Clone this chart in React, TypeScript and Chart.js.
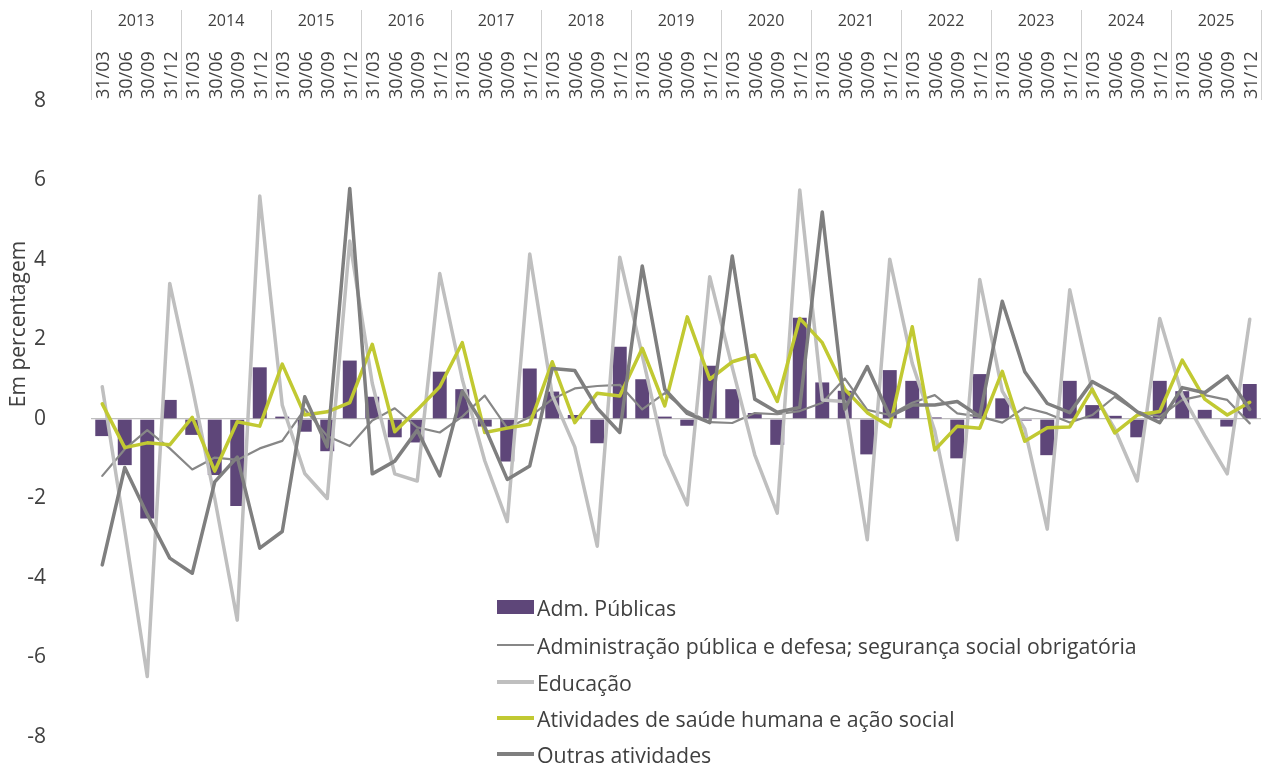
import React, { useEffect, useRef } from 'react';
import { Chart, registerables } from 'chart.js';

Chart.register(...registerables);

const years = ['2013', '2014', '2015', '2016', '2017', '2018', '2019', '2020', '2021', '2022', '2023', '2024', '2025'];
const quarters = ['31/03', '30/06', '30/09', '31/12'];
const categories = years.flatMap((y) => quarters.map((q) => q + ' ' + y));

const yTicks = [-8, -6, -4, -2, 0, 2, 4, 6, 8];

const admPublicas = [
  -0.43, -1.16, -2.5, 0.48, -0.4, -1.41, -2.19, 1.3, 0.06, -0.32, -0.81, 1.47,
  0.56, -0.46, -0.59, 1.19, 0.75, -0.19, -1.07, 1.27, 0.69, 0.1, -0.61, 1.82,
  1.0, 0.06, -0.17, 1.34, 0.75, 0.15, -0.65, 2.55, 0.92, 0.71, -0.89, 1.23,
  0.96, 0.04, -0.99, 1.13, 0.52, -0.04, -0.91, 0.96, 0.35, 0.08, -0.46, 0.96,
  0.7, 0.23, -0.19, 0.88,
];

const administracaoPublica = [
  -1.43, -0.76, -0.28, -0.74, -1.27, -0.97, -1.03, -0.74, -0.55, 0.25, -0.43, -0.68,
  -0.04, 0.27, -0.21, -0.34, 0.06, 0.59, -0.23, 0.05, 0.5, 0.77, 0.83, 0.86,
  0.24, 0.65, 0.2, -0.08, -0.1, 0.15, 0.12, 0.2, 0.41, 1.02, 0.23, 0.1,
  0.41, 0.6, 0.14, 0.06, -0.09, 0.29, 0.14, -0.09, 0.1, 0.56, 0.18, 0.06,
  0.48, 0.6, 0.48, -0.11,
];

const educacao = [
  0.81, -2.8, -6.48, 3.41, 0.8, -2.0, -5.06, 5.61, 0.35, -1.37, -2.0, 4.48,
  0.9, -1.38, -1.56, 3.66, 1.0, -1.05, -2.58, 4.15, 0.6, -0.7, -3.2, 4.07,
  1.6, -0.9, -2.16, 3.58, 1.3, -0.9, -2.37, 5.76, 0.48, 0.44, -3.04, 4.02,
  1.4, -0.3, -3.04, 3.51, 0.7, -0.25, -2.77, 3.25, 0.7, -0.25, -1.56, 2.53,
  0.6, -0.42, -1.38, 2.51,
];

const saude = [
  0.38, -0.72, -0.6, -0.65, 0.04, -1.31, -0.07, -0.18, 1.38, 0.1, 0.18, 0.41,
  1.88, -0.32, 0.23, 0.81, 1.92, -0.34, -0.23, -0.13, 1.44, -0.09, 0.65, 0.58,
  1.78, 0.33, 2.57, 1.0, 1.44, 1.61, 0.44, 2.53, 1.92, 0.75, 0.16, -0.19,
  2.32, -0.78, -0.18, -0.23, 1.2, -0.56, -0.22, -0.2, 0.75, -0.35, 0.1, 0.19,
  1.48, 0.5, 0.1, 0.42,
];

const outras = [
  -3.67, -1.22, -2.4, -3.5, -3.88, -1.58, -0.96, -3.25, -2.83, 0.56, -0.7, 5.8,
  -1.38, -1.06, -0.28, -1.43, 0.7, -0.2, -1.52, -1.18, 1.27, 1.22, 0.27, -0.34,
  3.85, 0.75, 0.14, -0.09, 4.1, 0.5, 0.17, 0.29, 5.21, 0.25, 1.32, 0.07,
  0.35, 0.35, 0.44, 0.06, 2.96, 1.19, 0.39, 0.16, 0.94, 0.63, 0.18, -0.09,
  0.79, 0.66, 1.08, 0.24,
];

const seriesNames = [
  'Adm. Públicas',
  'Administração pública e defesa; segurança social obrigatória',
  'Educação',
  'Atividades de saúde humana e ação social',
  'Outras atividades',
];

const colors = {
  bar: '#5e4679',
  adm: '#878787',
  edu: '#bfbfbf',
  saude: '#c1c932',
  outras: '#7f7f7f',
  text: '#404040',
};

const FONT = '"Open Sans", sans-serif';

const overlayPlugin = {
  id: 'overlay',
  afterDraw(chart: any) {
    const ctx = chart.ctx as CanvasRenderingContext2D;
    const xs = chart.scales.x;
    const n = categories.length;
    const w = xs.getPixelForValue(1) - xs.getPixelForValue(0);
    ctx.save();
    ctx.strokeStyle = '#cfcfcf';
    ctx.lineWidth = 1;
    for (let k = 0; k <= years.length; k++) {
      const idx = k * 4;
      const x = idx < n ? xs.getPixelForValue(idx) - w / 2 : xs.getPixelForValue(n - 1) + w / 2;
      const px = Math.round(x) + 0.5;
      ctx.beginPath();
      ctx.moveTo(px, 10);
      ctx.lineTo(px, 100);
      ctx.stroke();
    }
    ctx.fillStyle = colors.text;
    ctx.font = '16px ' + FONT;
    ctx.textAlign = 'center';
    ctx.textBaseline = 'middle';
    years.forEach((y, k) => {
      const x0 = xs.getPixelForValue(k * 4) - w / 2;
      ctx.fillText(y, x0 + 2 * w, 21);
    });
    ctx.font = '18px ' + FONT;
    categories.forEach((_, i) => {
      const cx = xs.getPixelForValue(i);
      ctx.save();
      ctx.translate(cx + 2, 99);
      ctx.rotate(-Math.PI / 2);
      ctx.textAlign = 'left';
      ctx.textBaseline = 'middle';
      ctx.fillText(quarters[i % 4], 0, 0);
      ctx.restore();
    });
    ctx.save();
    ctx.font = '21px ' + FONT;
    ctx.translate(19, 324);
    ctx.rotate(-Math.PI / 2);
    ctx.textAlign = 'center';
    ctx.textBaseline = 'middle';
    ctx.fillText('Em percentagem', 0, 0);
    ctx.restore();
    ctx.restore();
  },
};

const legendItems = [
  { name: seriesNames[0], kind: 'bar', color: colors.bar, width: 0 },
  { name: seriesNames[1], kind: 'line', color: colors.adm, width: 2.5 },
  { name: seriesNames[2], kind: 'line', color: colors.edu, width: 3.5 },
  { name: seriesNames[3], kind: 'line', color: colors.saude, width: 3.5 },
  { name: seriesNames[4], kind: 'line', color: colors.outras, width: 3.5 },
];

function lineDs(label: string, data: number[], color: string, width: number, order: number) {
  return {
    type: 'line',
    label,
    data,
    borderColor: color,
    backgroundColor: color,
    borderWidth: width,
    pointRadius: 0,
    tension: 0,
    borderJoinStyle: 'round',
    borderCapStyle: 'round',
    order,
  };
}

export default function App() {
  const canvasRef = useRef<HTMLCanvasElement | null>(null);

  useEffect(() => {
    if (!canvasRef.current) return;
    const chart = new Chart(canvasRef.current, {
      type: 'bar',
      data: {
        labels: categories,
        datasets: [
          {
            type: 'bar',
            label: seriesNames[0],
            data: admPublicas,
            backgroundColor: colors.bar,
            borderWidth: 0,
            categoryPercentage: 1,
            barPercentage: 0.62,
            order: 5,
          },
          lineDs(seriesNames[1], administracaoPublica, colors.adm, 2.2, 4),
          lineDs(seriesNames[2], educacao, colors.edu, 3.5, 3),
          lineDs(seriesNames[3], saude, colors.saude, 3.5, 2),
          lineDs(seriesNames[4], outras, colors.outras, 3.5, 1),
        ],
      },
      options: {
        responsive: true,
        maintainAspectRatio: false,
        animation: false,
        devicePixelRatio: 1,
        layout: { padding: { left: 0, right: 7, top: 101, bottom: 30 } },
        plugins: {
          legend: { display: false },
          tooltip: { enabled: false },
          title: { display: false },
        },
        scales: {
          x: {
            type: 'category',
            display: false,
            offset: true,
            grid: { display: false },
          },
          y: {
            min: -8,
            max: 8,
            afterBuildTicks: (scale: any) => {
              scale.ticks = yTicks.map((v) => ({ value: v }));
            },
            afterFit: (scale: any) => {
              scale.width = 91;
              scale.paddingTop = 0;
              scale.paddingBottom = 0;
            },
            ticks: {
              color: colors.text,
              font: { family: FONT, size: 21 },
              padding: 45,
            },
            grid: {
              drawTicks: false,
              color: (c: any) => (c.tick && c.tick.value === 0 ? '#bfbfbf' : 'rgba(0,0,0,0)'),
              lineWidth: 1.3,
            },
            border: { display: false },
          },
        },
      },
      plugins: [overlayPlugin],
    } as any);
    return () => chart.destroy();
  }, []);

  const rowTop = [607, 645, 682, 718, 754];

  return (
    <div style={{ position: 'absolute', left: 0, top: 0, width: 1268, height: 767, background: '#fff', overflow: 'hidden' }}>
      <div style={{ position: 'absolute', left: 0, top: 0, width: 1268, height: 767 }}>
        <canvas ref={canvasRef} />
      </div>
      {legendItems.map((it, i) => (
        <div
          key={it.name}
          style={{
            position: 'absolute',
            left: 497,
            top: rowTop[i] - 15,
            height: 30,
            display: 'flex',
            alignItems: 'center',
            whiteSpace: 'nowrap',
            fontFamily: FONT,
            fontSize: 21.3,
            color: colors.text,
          }}
        >
          <span
            style={{
              display: 'inline-block',
              width: 37,
              height: it.kind === 'bar' ? 14 : it.width,
              background: it.color,
              marginRight: 3,
            }}
          />
          <span>{it.name}</span>
        </div>
      ))}
    </div>
  );
}
